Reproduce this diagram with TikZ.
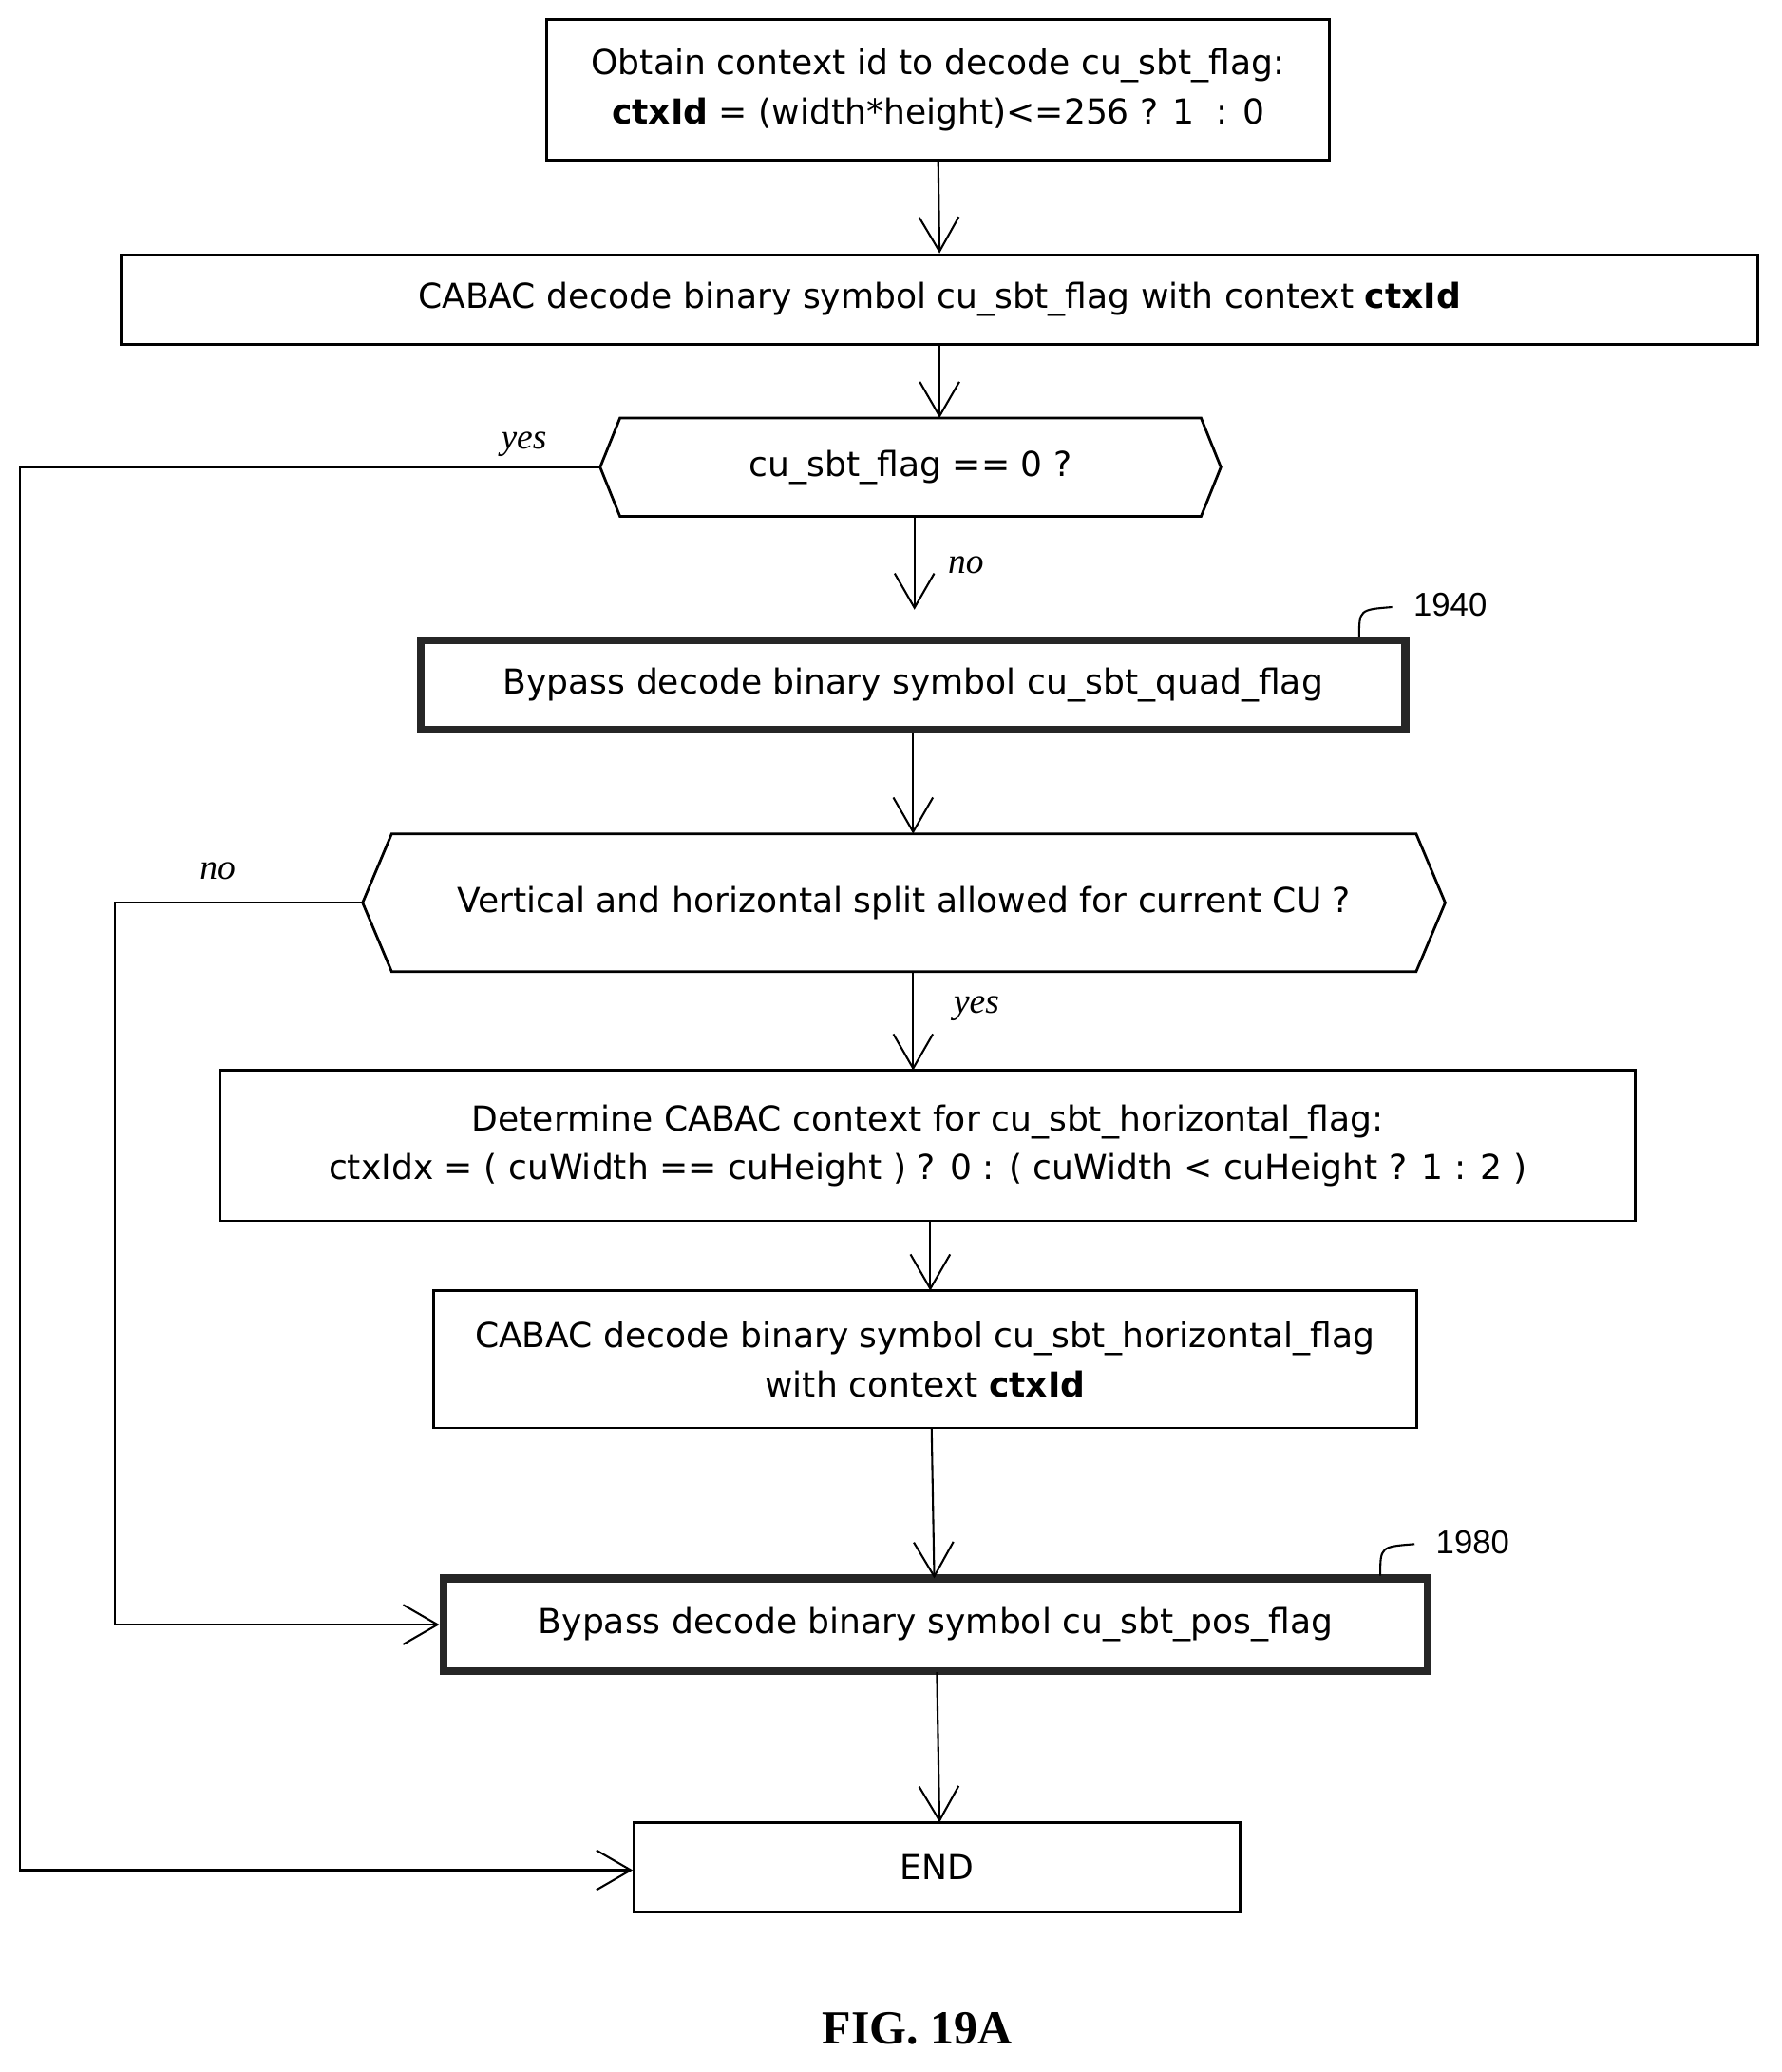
\documentclass[tikz,border=0pt]{standalone}
\usepackage{fontspec}
\setmainfont{DejaVu Sans}
\newfontfamily\figfont{Liberation Serif}
\newfontfamily\numfont{Liberation Sans}
\usetikzlibrary{arrows.meta}
\begin{document}
\begin{tikzpicture}[x=1pt,y=-1pt,
  every node/.style={font=\fontsize{26}{37}\selectfont},
  box/.style={draw,line width=2pt,inner sep=0pt,align=center},
  tbox/.style={draw=black!85,line width=6pt,inner sep=0pt,align=center},
  hexl/.style={line width=2pt,line join=miter},
  arr/.style={line width=1.5pt,-{Straight Barb[length=26pt,width=30pt,line width=1.5pt]}},
  ln/.style={line width=1.5pt},
  lab/.style={font=\fontsize{27}{30}\selectfont\itshape\figfont}]
\useasboundingbox (0,0) rectangle (1350,1570);
\node[box,minimum width=593pt,minimum height=107pt] (b1) at (711,68) {Obtain context id to decode cu\_sbt\_flag:\\\textbf{ctxId} = (width*height)<=256 ? 1~ : 0};
\node[box,minimum width=1240pt,minimum height=68pt] (b2) at (712,227) {CABAC decode binary symbol cu\_sbt\_flag with context \textbf{ctxId}};
\node[minimum width=470pt,minimum height=74pt,inner sep=0pt] (h1) at (690,354) {cu\_sbt\_flag == 0 ?};
\draw[hexl] (h1.west) -- ([xshift=15pt]h1.north west) -- ([xshift=-15pt]h1.north east) -- (h1.east) -- ([xshift=-15pt]h1.south east) -- ([xshift=15pt]h1.south west) -- cycle;
\node[tbox,minimum width=746pt,minimum height=68pt] (b3) at (692,519) {Bypass decode binary symbol cu\_sbt\_quad\_flag};
\node[minimum width=820pt,minimum height=104pt,inner sep=0pt] (h2) at (685,684) {Vertical and horizontal split allowed for current CU ?};
\draw[hexl] (h2.west) -- ([xshift=22pt]h2.north west) -- ([xshift=-22pt]h2.north east) -- (h2.east) -- ([xshift=-22pt]h2.south east) -- ([xshift=22pt]h2.south west) -- cycle;
\node[box,minimum width=1072pt,minimum height=114pt] (b4) at (703,868) {Determine CABAC context for cu\_sbt\_horizontal\_flag:\\ctxIdx = ( cuWidth == cuHeight ) ? 0 : ( cuWidth < cuHeight ? 1 : 2 )};
\node[box,minimum width=745pt,minimum height=104pt] (b5) at (701,1030) {CABAC decode binary symbol cu\_sbt\_horizontal\_flag\\with context \textbf{ctxId}};
\node[tbox,minimum width=746pt,minimum height=70pt] (b6) at (709,1231) {Bypass decode binary symbol cu\_sbt\_pos\_flag};
\node[box,minimum width=459pt,minimum height=68pt] (e) at (710,1415) {END};
\node[font=\fontsize{36}{40}\selectfont\bfseries\figfont] (fig) at (695,1537) {FIG. 19A};
\node[font=\fontsize{25}{30}\selectfont\numfont] (n1) at (1099,458) {1940};
\node[font=\fontsize{25}{30}\selectfont\numfont] (n2) at (1116,1169) {1980};
\draw[ln] (1030,483) .. controls (1030,462) .. (1055,460);
\draw[ln] (1046,1194) .. controls (1046,1172) .. (1072,1170);
\draw[arr] (b1.south) -- (b2.north);
\draw[arr] (b2.south) -- (b2.south|-h1.north);
\draw[arr] (693,391) -- (693,462);
\draw[arr] (b3.south) -- (b3.south|-h2.north);
\draw[arr] (692,736) -- (692,811);
\draw[arr] (705,925) -- (705,978);
\draw[arr] (706,1082) -- (708,1196);
\draw[arr] (710,1267) -- (712,1381);
\coordinate (c1) at (15,354);
\coordinate (c2) at (15,1417);
\draw[arr] (h1.west) -- (c1) -- (c2) -- (e.west|-c2);
\coordinate (d1) at (87,684);
\coordinate (d2) at (87,1231);
\draw[arr] (h2.west) -- (d1) -- (d2) -- (b6.west);
\node[lab] (y1) at (397,337) {yes};
\node[lab] (o1) at (732,428) {no};
\node[lab] (o2) at (165,660) {no};
\node[lab] (y2) at (740,764) {yes};
\end{tikzpicture}
\end{document}
